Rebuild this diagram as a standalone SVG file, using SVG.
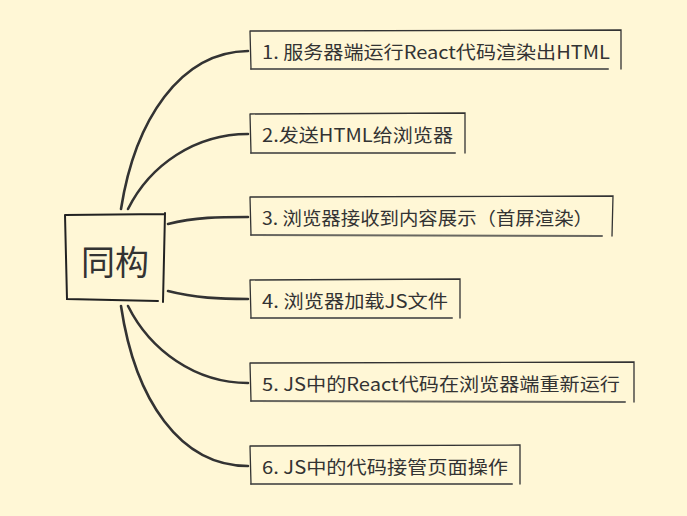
<svg xmlns="http://www.w3.org/2000/svg" width="687" height="516" viewBox="0 0 687 516">
<style>
.bg{fill:#fff7d6}
.conn{fill:none;stroke:#333;stroke-width:2.6;stroke-linecap:round}
.box{fill:none;stroke:#333;stroke-width:1.3;stroke-linecap:round}
.boxb{fill:none;stroke:#444;stroke-width:2;stroke-linecap:round;opacity:0.8}
.lbl{font-family:"Noto Sans CJK SC","Noto Sans",sans-serif;font-size:18px;fill:#333}
.ctr{font-family:"Noto Sans CJK SC","Noto Sans",sans-serif;font-size:34px;fill:#333}
.cbox{fill:none;stroke:#222;stroke-width:2;stroke-linecap:round}
</style>
<rect class="bg" x="0" y="0" width="687" height="516"/>
<g id="connectors">
<path class="conn" d="M121,209 C135,120 180,52 248,51"/>
<path class="conn" d="M128,209 C150,165 195,134 248,134"/>
<path class="conn" d="M168,224 C195,217 220,217 248,217"/>
<path class="conn" d="M168,291 C195,298 220,299 248,299"/>
<path class="conn" d="M128,306 C150,350 195,383 248,383"/>
<path class="conn" d="M121,306 C135,400 180,466 248,466"/>
</g>
<g id="center">
<path class="cbox" d="M65,215 L165,214 M65,215 L67,299 L158,301 M165,213 L163,302"/>
<text class="ctr" x="115" y="275" text-anchor="middle">同构</text>
</g>
<g id="n1">
<path class="box" d="M250,31 L621,30 L621,69 M250,31 L251,69"/>
<path class="boxb" d="M251,69 L608,69"/>
<text class="lbl" x="262" y="59" textLength="348" lengthAdjust="spacingAndGlyphs">1. 服务器端运行React代码渲染出HTML</text>
</g>
<g id="n2">
<path class="box" d="M250,114 L465,113 L465,153 M250,114 L251,153"/>
<path class="boxb" d="M251,153 L455,153"/>
<text class="lbl" x="262" y="142" textLength="191" lengthAdjust="spacingAndGlyphs">2.发送HTML给浏览器</text>
</g>
<g id="n3">
<path class="box" d="M250,197 L613,196 L612,236 M250,197 L251,235"/>
<path class="boxb" d="M251,235 L602,236"/>
<text class="lbl" x="262" y="225" textLength="331" lengthAdjust="spacingAndGlyphs">3. 浏览器接收到内容展示（首屏渲染）</text>
</g>
<g id="n4">
<path class="box" d="M250,280 L460,279 L460,318 M250,280 L251,318"/>
<path class="boxb" d="M251,318 L452,318"/>
<text class="lbl" x="262" y="308" textLength="186" lengthAdjust="spacingAndGlyphs">4. 浏览器加载JS文件</text>
</g>
<g id="n5">
<path class="box" d="M250,363 L634,362 L634,402 M250,363 L251,401"/>
<path class="boxb" d="M251,401 L625,402"/>
<text class="lbl" x="262" y="391" textLength="358" lengthAdjust="spacingAndGlyphs">5. JS中的React代码在浏览器端重新运行</text>
</g>
<g id="n6">
<path class="box" d="M250,446 L520,445 L520,484 M250,446 L251,484"/>
<path class="boxb" d="M251,484 L512,484"/>
<text class="lbl" x="262" y="474" textLength="246" lengthAdjust="spacingAndGlyphs">6. JS中的代码接管页面操作</text>
</g>
</svg>
